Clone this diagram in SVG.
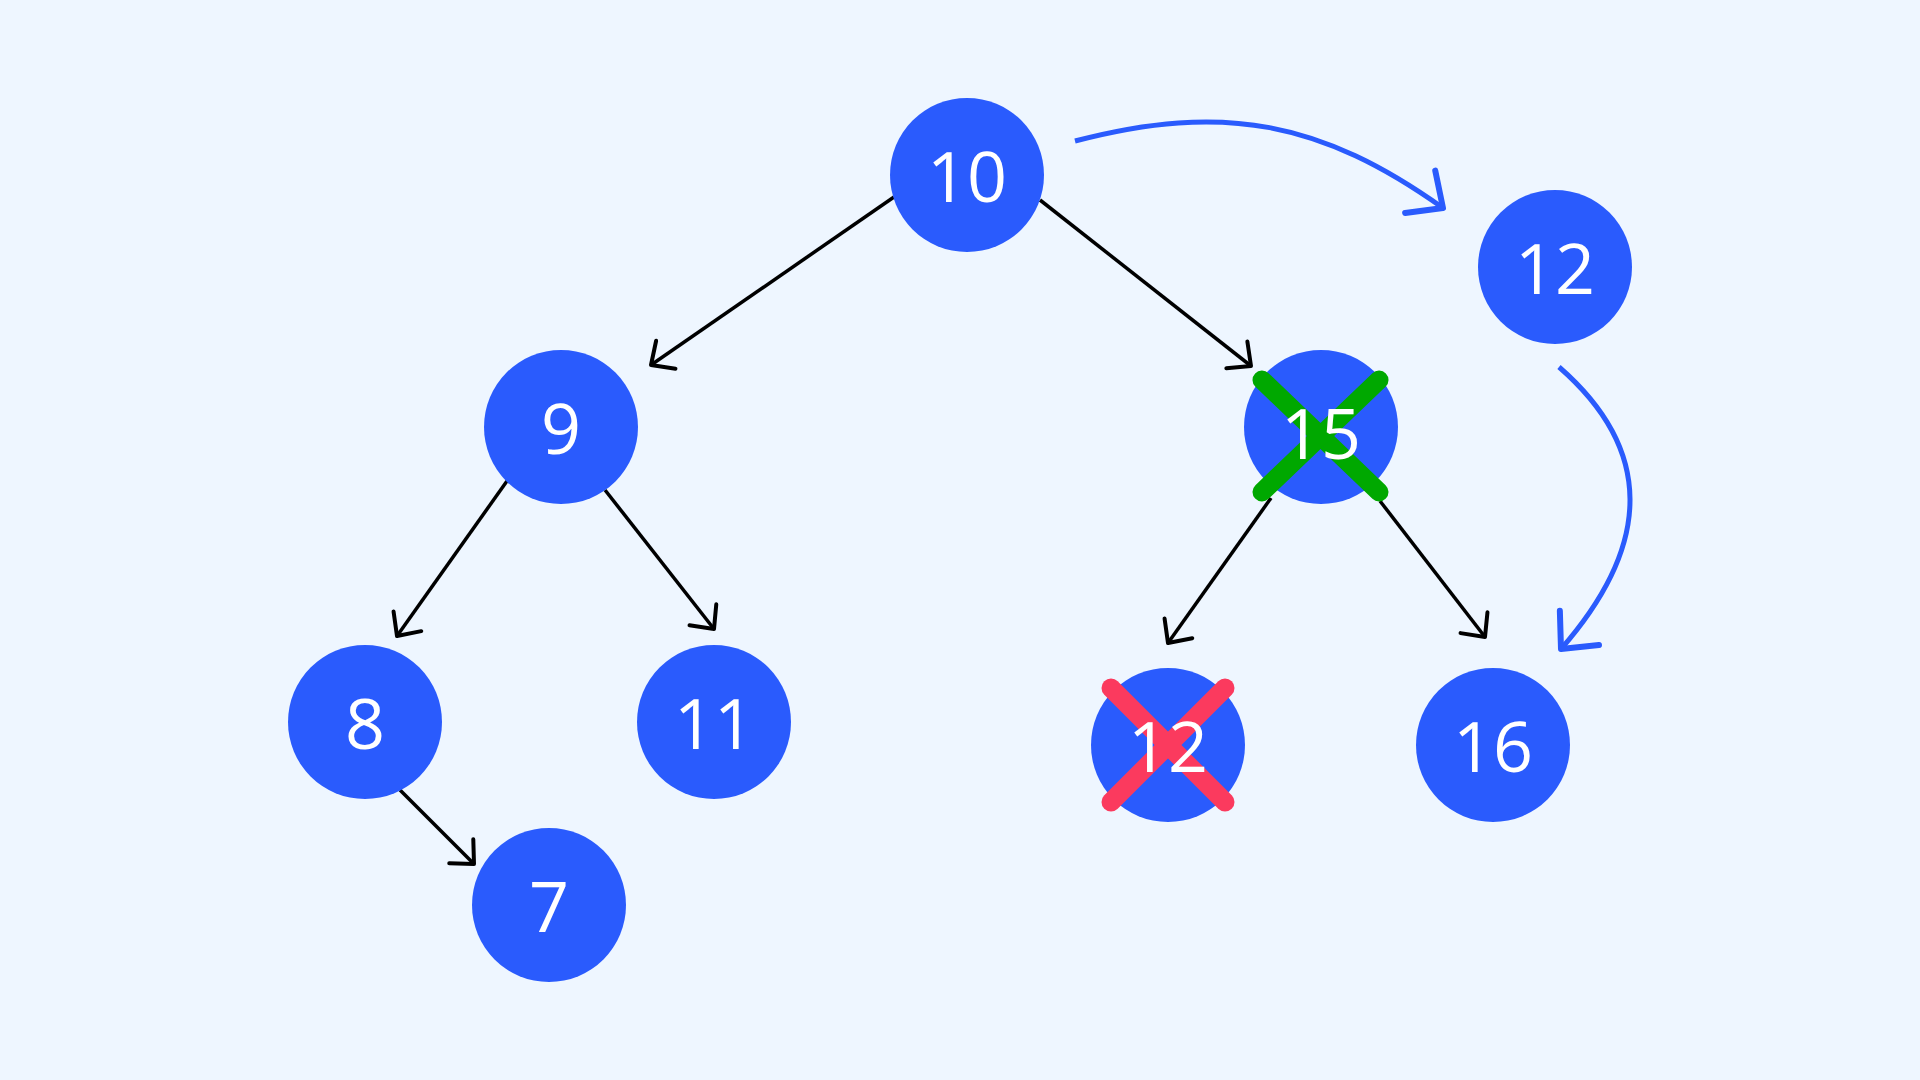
<svg xmlns="http://www.w3.org/2000/svg" width="1920" height="1080" viewBox="0 0 1920 1080">
<style>
.n circle{fill:#2a5bfd}
.n text{fill:#fff;font-family:"Open Sans","DejaVu Sans",sans-serif;font-size:70px;text-anchor:middle;dominant-baseline:central}
.e{stroke:#000;stroke-width:3.5;fill:none;marker-end:url(#ak)}
.b{stroke:#2a5bfd;stroke-width:5;fill:none;marker-end:url(#ab)}
</style>
<defs>
<marker id="ak" markerUnits="userSpaceOnUse" markerWidth="40" markerHeight="40" refX="0" refY="0" viewBox="-30 -20 40 40" orient="auto" overflow="visible"><path d="M-18,-17 L0,0 L-18,17" fill="none" stroke="#000" stroke-width="4" stroke-linecap="round" stroke-linejoin="round"/></marker>
<marker id="ab" markerUnits="userSpaceOnUse" markerWidth="50" markerHeight="50" refX="0" refY="0" viewBox="-40 -25 50 50" orient="auto" overflow="visible"><path d="M-28,-26 L0,0 L-28,26" fill="none" stroke="#2a5bfd" stroke-width="6" stroke-linecap="round" stroke-linejoin="round"/></marker>
</defs>
<rect width="1920" height="1080" fill="#eef6ff"/>
<g id="connectors">
<line class="e" x1="894" y1="197" x2="651" y2="365"/>
<line class="e" x1="1040" y1="200" x2="1251" y2="366"/>
<line class="e" x1="507" y1="481" x2="397" y2="636"/>
<line class="e" x1="605" y1="490" x2="714" y2="629"/>
<line class="e" x1="1271" y1="498" x2="1168" y2="643"/>
<line class="e" x1="1380" y1="501" x2="1485" y2="637"/>
<line class="e" x1="400" y1="790" x2="474" y2="864"/>
<path class="b" d="M1075 141 C1224 102 1322 122 1443 208"/>
<path class="b" d="M1559 367 Q1700 490 1561 649"/>
</g>
<g id="n10" class="n"><circle cx="967" cy="175" r="77"/><text x="967" y="175">10</text></g>
<g id="n9" class="n"><circle cx="561" cy="427" r="77"/><text x="561" y="427">9</text></g>
<g id="n15" class="n"><circle cx="1321" cy="427" r="77"/>
<g stroke="#00a800" stroke-width="19" stroke-linecap="round"><line x1="1262" y1="380" x2="1379" y2="492"/><line x1="1379" y1="380" x2="1262" y2="492"/></g>
<text x="1321" y="432">15</text></g>
<g id="n12a" class="n"><circle cx="1555" cy="267" r="77"/><text x="1555" y="267">12</text></g>
<g id="n8" class="n"><circle cx="365" cy="722" r="77"/><text x="365" y="722">8</text></g>
<g id="n11" class="n"><circle cx="714" cy="722" r="77"/><text x="714" y="722">11</text></g>
<g id="n12b" class="n"><circle cx="1168" cy="745" r="77"/>
<g stroke="#fb3a5e" stroke-width="19" stroke-linecap="round"><line x1="1111" y1="688" x2="1225" y2="802"/><line x1="1225" y1="688" x2="1111" y2="802"/></g>
<text x="1168" y="745">12</text></g>
<g id="n16" class="n"><circle cx="1493" cy="745" r="77"/><text x="1493" y="745">16</text></g>
<g id="n7" class="n"><circle cx="549" cy="905" r="77"/><text x="549" y="905">7</text></g>
</svg>
